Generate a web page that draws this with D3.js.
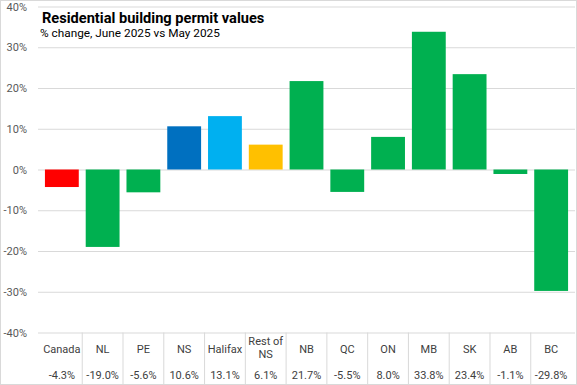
<!DOCTYPE html>
<html>
<head>
<meta charset="utf-8">
<script src="https://cdn.jsdelivr.net/npm/d3@7"></script>
<style>
  body { margin: 0; background: #fff; }
  text { font-family: Roboto, "Liberation Sans", sans-serif; }
</style>
</head>
<body>
<script>
// chart size
const width = 577;
const height = 385;

// plot area
const plot = { left: 38, right: 575, top: 6.5, bottom: 332.5 };

// data
const categories = ['Canada', 'NL', 'PE', 'NS', 'Halifax', 'Rest of NS', 'NB', 'QC', 'ON', 'MB', 'SK', 'AB', 'BC'];
const values = [-4.3, -19.0, -5.6, 10.6, 13.1, 6.1, 21.7, -5.5, 8.0, 33.8, 23.4, -1.1, -29.8];
const barColors = ['#FF0000', '#00B050', '#00B050', '#0070C0', '#00B0F0', '#FFC000', '#00B050',
                   '#00B050', '#00B050', '#00B050', '#00B050', '#00B050', '#00B050'];
const yTicks = [-40, -30, -20, -10, 0, 10, 20, 30, 40];

const svg = d3.select('body').append('svg').attr('width', width).attr('height', height);

const x = d3.scaleBand().domain(categories).range([plot.left, plot.right]).padding(0.17);
const y = d3.scaleLinear().domain([-40, 40]).range([plot.bottom, plot.top]);

// gridlines + y labels
const yAxis = svg.append('g')
    .attr('transform', 'translate(' + plot.left + ',0)')
    .call(d3.axisLeft(y).tickValues(yTicks).tickSize(-(plot.right - plot.left)).tickPadding(11)
        .tickFormat(d => d + '%'));
yAxis.select('.domain').remove();
yAxis.selectAll('line').attr('stroke', '#D9D9D9');
yAxis.selectAll('text').attr('fill', '#595959').attr('font-size', '11px');

// bars
svg.selectAll('rect.bar')
    .data(values)
    .enter()
    .append('rect')
    .attr('class', 'bar')
    .attr('x', (d, i) => x(categories[i]))
    .attr('y', d => y(Math.max(0, d)))
    .attr('width', x.bandwidth())
    .attr('height', d => Math.abs(y(d) - y(0)))
    .attr('fill', (d, i) => barColors[i]);

// data table below the plot
const step = x.step();
const tableBottom = height - 1;
svg.selectAll('line.cell')
    .data(categories.slice(1))
    .enter()
    .append('line')
    .attr('class', 'cell')
    .attr('x1', d => x(d) - x.paddingInner() * step / 2)
    .attr('x2', d => x(d) - x.paddingInner() * step / 2)
    .attr('y1', plot.bottom)
    .attr('y2', tableBottom)
    .attr('stroke', '#D9D9D9');

const names = svg.selectAll('text.cat')
    .data(categories)
    .enter()
    .append('text')
    .attr('class', 'cat')
    .attr('text-anchor', 'middle')
    .attr('font-size', '11px')
    .attr('fill', '#404040')
    .attr('x', d => x(d) + x.bandwidth() / 2)
    .attr('y', 353)
    .text(d => d);

// wrap long names onto two lines
names.each(function(d) {
    const t = d3.select(this);
    if (this.getComputedTextLength() > step - 4 && d.indexOf(' ') > 0) {
        const cut = d.lastIndexOf(' ');
        const cx = t.attr('x');
        t.text(null);
        t.append('tspan').attr('x', cx).attr('y', 345).text(d.slice(0, cut));
        t.append('tspan').attr('x', cx).attr('y', 358).text(d.slice(cut + 1));
    }
});

svg.selectAll('text.val')
    .data(values)
    .enter()
    .append('text')
    .attr('class', 'val')
    .attr('text-anchor', 'middle')
    .attr('font-size', '11px')
    .attr('fill', '#404040')
    .attr('x', (d, i) => x(categories[i]) + x.bandwidth() / 2)
    .attr('y', 379)
    .text(d => d.toFixed(1) + '%');

// title
svg.append('text')
    .attr('x', 42).attr('y', 22.5)
    .attr('font-size', '14.6px').attr('font-weight', 'bold').attr('fill', '#000')
    .text('Residential building permit values');
svg.append('text')
    .attr('x', 40).attr('y', 36.5)
    .attr('font-size', '11.8px').attr('fill', '#000')
    .text('% change, June 2025 vs May 2025');

// chart border
svg.append('rect')
    .attr('x', 0.5).attr('y', 0.5)
    .attr('width', width - 1).attr('height', height - 1)
    .attr('fill', 'none').attr('stroke', '#D9D9D9');
</script>
</body>
</html>
